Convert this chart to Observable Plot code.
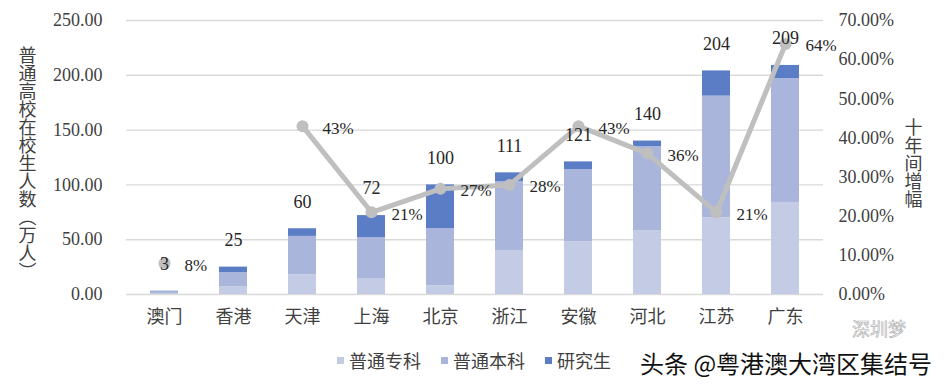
<!DOCTYPE html>
<html><head><meta charset="utf-8">
<script src="https://cdn.jsdelivr.net/npm/d3@7"></script>
<script src="https://cdn.jsdelivr.net/npm/@observablehq/plot@0.6"></script>
<style>
body{margin:0;background:#fff;}
#wrap{position:relative;width:948px;height:387px;overflow:hidden;font-family:"Noto Sans CJK SC",sans-serif;}
#legend{position:absolute;left:337px;top:348px;display:flex;gap:20px;font-size:18px;color:#404040;line-height:24px;}
#legend .it{display:flex;align-items:center;}
#legend .sw{width:7px;height:7px;margin-right:5px;}
#wm{position:absolute;left:640px;top:351px;font-size:24px;color:#111;white-space:nowrap;line-height:24px;}
#wm2{position:absolute;left:852px;top:318px;font-size:18px;color:#fff;-webkit-text-stroke:0.6px #aaa;white-space:nowrap;line-height:20px;}
</style></head><body><div id="wrap"></div>
<script>
const regions = ["澳门","香港","天津","上海","北京","浙江","安徽","河北","江苏","广东"];
const series = ["普通专科","普通本科","研究生"];
const zhuanke = [0.6, 7, 18, 14, 8, 40, 48, 58, 70, 84];
const benke = [2.0, 13, 35, 38, 52, 63, 66, 77, 111, 113];
const yanjiusheng = [0.4, 5, 7, 20, 40, 8, 7, 5, 23, 12];
const totals = [3, 25, 60, 72, 100, 111, 121, 140, 204, 209];
const growth = [0.08, null, 0.43, 0.21, 0.27, 0.28, 0.43, 0.36, 0.21, 0.64];
const leftTicks = [0, 50, 100, 150, 200, 250];
const rightTicks = [0, 0.1, 0.2, 0.3, 0.4, 0.5, 0.6, 0.7];
const colors = ["#c4cbe4", "#a9b5db", "#5b7dc5"];
const yTitle = "普通高校在校生人数（万人）";
const y2Title = "十年间增幅";

const k = 250 / 0.7;
const stacked = [];
regions.forEach((r, i) => {
  [zhuanke, benke, yanjiusheng].forEach((arr, j) => stacked.push({region: r, series: series[j], value: arr[i]}));
});
const lineData = regions.map((r, i) => ({region: r, g: growth[i], total: totals[i]}));
const pts = lineData.filter(d => d.g != null);
const numFont = "'Liberation Serif', serif";

const plot = Plot.plot({
  width: 948, height: 340,
  marginLeft: 126, marginRight: 125, marginTop: 20, marginBottom: 46,
  x: {domain: regions, paddingInner: 0.6, paddingOuter: 0.3, label: null, axis: null},
  y: {domain: [0, 250], label: null, axis: null},
  color: {domain: series, range: colors},
  style: {fontFamily: "'Noto Sans CJK SC', sans-serif", fontSize: "17px", color: "#404040", background: "#fff"},
  marks: [
    Plot.gridY(leftTicks, {stroke: "#d9d9d9", strokeOpacity: 1, strokeWidth: 1.4}),
    Plot.barY(stacked, {x: "region", y: "value", fill: "series"}),
    Plot.line(lineData, {x: "region", y: d => d.g == null ? NaN : d.g * k, stroke: "#bfbfbf", strokeWidth: 5, strokeLinejoin: "round"}),
    Plot.dot(pts, {x: "region", y: d => d.g * k, r: 6, fill: "#bfbfbf", stroke: "none"}),
    Plot.text(lineData, {x: "region", y: "total", text: d => String(d.total), dy: -27, fontFamily: numFont, fontSize: 18, fill: "#262626"}),
    Plot.text(pts, {x: "region", y: d => d.g * k, text: d => Math.round(d.g * 100) + "%", dx: 20, dy: 2, textAnchor: "start", fontFamily: numFont, fontSize: 17, fill: "#262626"}),
    Plot.axisY(leftTicks, {anchor: "left", tickSize: 0, tickPadding: 24, label: null, tickFormat: d => d.toFixed(2), fontFamily: numFont, fontSize: 18, fill: "#404040", letterSpacing: 1}),
    Plot.axisY(rightTicks.map(t => t * k), {anchor: "right", tickSize: 0, tickPadding: 15, label: null, tickFormat: d => (d / k * 100).toFixed(2) + "%", fontFamily: numFont, fontSize: 18, fill: "#404040", letterSpacing: 1}),
    Plot.axisX({tickSize: 0, tickPadding: 16, label: null, fontSize: 18, fill: "#404040"}),
    Plot.text([yTitle], {frameAnchor: "left", dx: -99, fontSize: 18, fill: "#404040"}),
    Plot.text([y2Title], {frameAnchor: "right", dx: 90, fontSize: 18, fill: "#404040"})
  ]
});

plot.querySelectorAll("text").forEach(t => {
  if (t.textContent === yTitle || t.textContent === y2Title) {
    t.style.writingMode = "vertical-rl";
    t.setAttribute("dy", "0");
    t.setAttribute("text-anchor", "middle");
  }
});

const wrap = document.getElementById("wrap");
wrap.appendChild(plot);

const legend = document.createElement("div");
legend.id = "legend";
series.forEach((s, i) => {
  const it = document.createElement("span"); it.className = "it";
  const sw = document.createElement("span"); sw.className = "sw"; sw.style.background = colors[i];
  const tx = document.createElement("span"); tx.textContent = s;
  it.appendChild(sw); it.appendChild(tx); legend.appendChild(it);
});
wrap.appendChild(legend);

const wm2 = document.createElement("div"); wm2.id = "wm2"; wm2.textContent = "深圳梦"; wrap.appendChild(wm2);
const wm = document.createElement("div"); wm.id = "wm"; wm.textContent = "头条 @粤港澳大湾区集结号"; wrap.appendChild(wm);
</script>
</body></html>
